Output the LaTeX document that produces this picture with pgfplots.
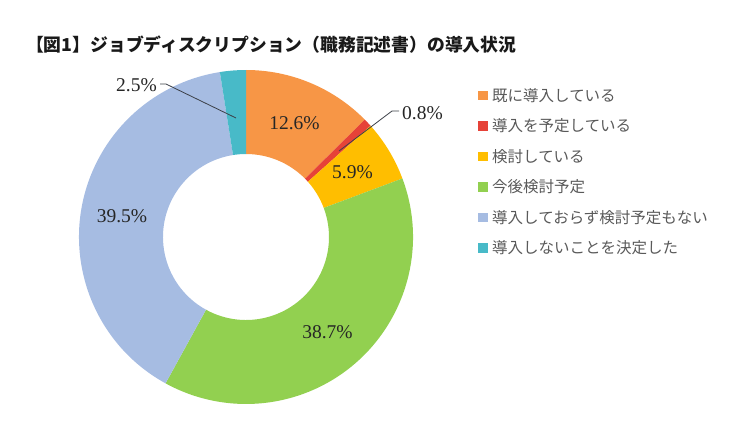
\documentclass[border=0pt]{standalone}
\usepackage{fontspec}
\usepackage{pgfplots}
\usepackage{pgfplotstable}
\pgfplotsset{compat=1.18}
\setmainfont{Liberation Serif}
\newfontfamily\jp{Noto Sans CJK JP}
\definecolor{c0}{RGB}{247,150,70}
\definecolor{c1}{RGB}{230,66,56}
\definecolor{c2}{RGB}{255,190,0}
\definecolor{c3}{RGB}{146,208,80}
\definecolor{c4}{RGB}{166,188,226}
\definecolor{c5}{RGB}{72,186,200}
\definecolor{legtext}{RGB}{89,89,89}
\definecolor{lead}{RGB}{60,64,72}
\pgfplotstableread{
label value
a 12.6
b 0.8
c 5.9
d 38.7
e 39.5
f 2.5
}\datatable
\begin{document}
\begin{tikzpicture}
\begin{axis}[
  hide axis, clip=false,
  x=1pt, y=1pt,
  xmin=0, xmax=740, ymin=0, ymax=440,
  scale only axis,
]
\path (axis cs:0,0) rectangle (axis cs:740,440);
\def\cum{0}
\pgfplotsforeachungrouped \i in {0,...,5}{%
  \pgfplotstablegetelem{\i}{value}\of\datatable
  \let\v\pgfplotsretval
  \pgfmathsetmacro\aS{90-3.6*\cum}%
  \pgfmathsetmacro\aE{90-3.6*(\cum+\v)}%
  \pgfmathsetmacro\cum{\cum+\v}%
  \pgfmathsetmacro\xa{246+167*cos(\aS)}%
  \pgfmathsetmacro\ya{203+167*sin(\aS)}%
  \pgfmathsetmacro\xb{246+83*cos(\aE)}%
  \pgfmathsetmacro\yb{203+83*sin(\aE)}%
  \edef\temp{\noexpand\fill[c\i] (axis cs:\xa,\ya) arc[start angle=\aS, end angle=\aE, radius=167pt] -- (axis cs:\xb,\yb) arc[start angle=\aE, end angle=\aS, radius=83pt] -- cycle;}%
  \temp
}
% leader lines
\draw[lead, line width=0.8pt] (axis cs:160,356) -- (axis cs:166,356) -- (axis cs:236,322);
\draw[lead, line width=0.8pt] (axis cs:399,329) -- (axis cs:392,329) -- (axis cs:339,289);
% data labels
\begin{scope}[every node/.style={font=\fontsize{19.5}{20}\selectfont, text=black!85, inner sep=0pt}]
\node at (axis cs:294.5,317) {12.6\%};
\node at (axis cs:422.5,327) {0.8\%};
\node at (axis cs:352.5,268) {5.9\%};
\node at (axis cs:327.5,108) {38.7\%};
\node at (axis cs:122,224) {39.5\%};
\node at (axis cs:136.5,355) {2.5\%};
\end{scope}
% title
\node[anchor=west, inner sep=0pt, text=black!90, font=\jp\bfseries\fontsize{17.8}{18}\selectfont] at (axis cs:26,395.5) {【図1】ジョブディスクリプション（職務記述書）の導入状況};
% legend
\begin{scope}[every node/.style={anchor=west, inner sep=0pt, text=legtext, font=\jp\fontsize{15.5}{16}\selectfont}]
\fill[c0] (axis cs:478.25,339.75) rectangle (axis cs:487.75,349.25);
\node at (axis cs:492,344.5) {既に導入している};
\fill[c1] (axis cs:478.25,309.25) rectangle (axis cs:487.75,318.75);
\node at (axis cs:492,314) {導入を予定している};
\fill[c2] (axis cs:478.25,278.75) rectangle (axis cs:487.75,288.25);
\node at (axis cs:492,283.5) {検討している};
\fill[c3] (axis cs:478.25,248.25) rectangle (axis cs:487.75,257.75);
\node at (axis cs:492,253) {今後検討予定};
\fill[c4] (axis cs:478.25,217.75) rectangle (axis cs:487.75,227.25);
\node at (axis cs:492,222.5) {導入しておらず検討予定もない};
\fill[c5] (axis cs:478.25,187.25) rectangle (axis cs:487.75,196.75);
\node at (axis cs:492,192) {導入しないことを決定した};
\end{scope}
\end{axis}
\end{tikzpicture}
\end{document}
